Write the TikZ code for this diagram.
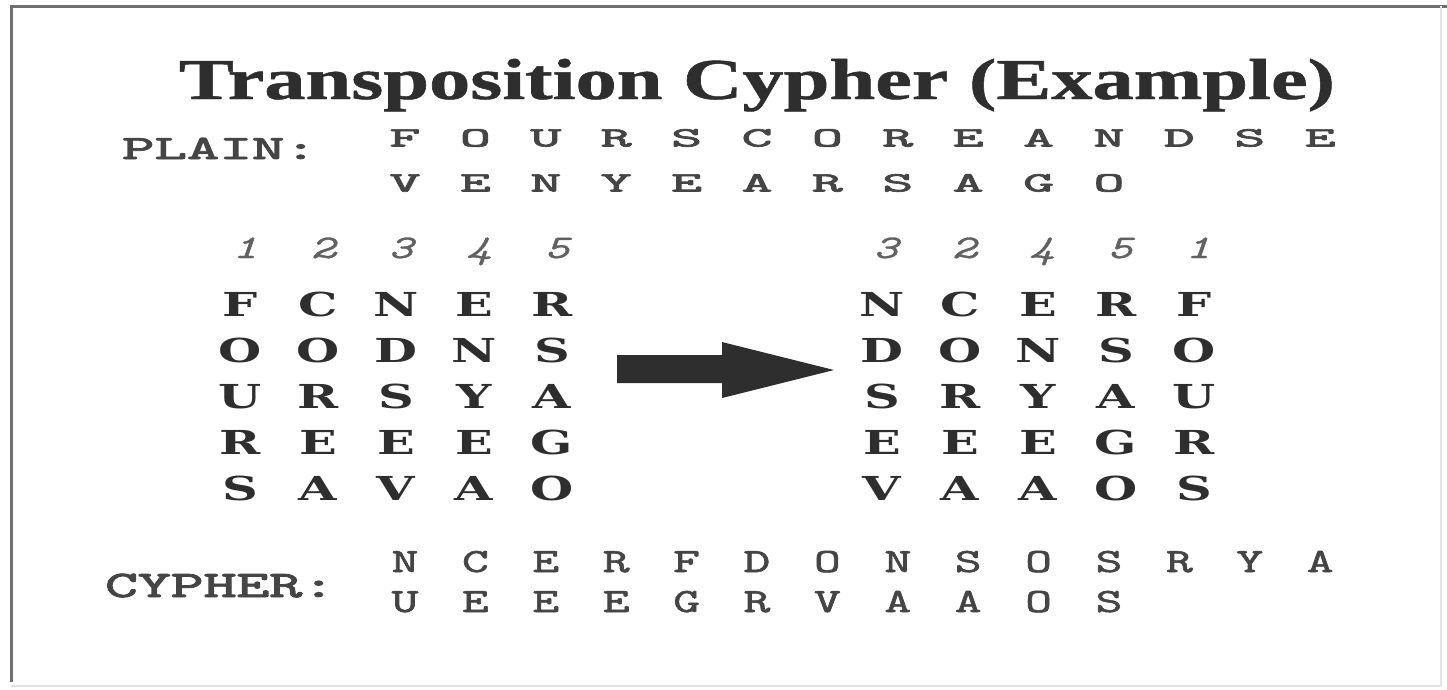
\documentclass[tikz,border=0pt]{standalone}
\usepackage{fontspec}
\usepackage{graphicx}
\setmainfont{Liberation Serif}
\newfontfamily\headfont{Liberation Serif Bold}[FakeBold=0.8]
% typewriter faces with a heavier stroke
\newfontfamily\typeheavy{lmmono10-regular.otf}[FakeBold=2.2]
\newfontfamily\typemedium{lmmono10-regular.otf}[FakeBold=1.4]
\newfontfamily\typeslant{lmmono10-italic.otf}[FakeBold=0.9]
\newfontfamily\slabfont{DejaVu Serif}

% horizontally widened text
\newcommand\widen[2]{\scalebox{#1}[1]{#2}}

\definecolor{ink}{HTML}{2E2E2E}
\definecolor{midink}{HTML}{454545}
\definecolor{softink}{HTML}{616161}
\definecolor{frameline}{HTML}{707070}
\definecolor{faintline}{HTML}{E2E2E2}

\begin{document}
\begin{tikzpicture}[x=1pt,y=-1pt,
  every node/.style={inner sep=0pt, outer sep=0pt, anchor=base},
  headline/.style={text=ink, font=\headfont\fontsize{58}{60}\selectfont},
  rowlabel/.style={text=midink, font=\typeheavy\fontsize{34}{36}\selectfont, anchor=base west},
  plainch/.style={text=midink, font=\typeheavy\fontsize{28}{30}\selectfont},
  cypherch/.style={text=midink, font=\typemedium\fontsize{34}{35}\selectfont},
  keydigit/.style={text=softink, font=\typeslant\fontsize{33}{34}\selectfont},
  gridch/.style={text=ink, font=\slabfont\bfseries\fontsize{33}{34}\selectfont},
  bigarrow/.style={fill=ink, draw=none}
]
\useasboundingbox (0,0) rectangle (1447,689);
\fill[white] (0,0) rectangle (1447,689);

% frame
\draw[frameline, line width=3pt] (10,6) -- (1447,6);
\draw[frameline, line width=3pt] (11,6) -- (11,682);
\draw[faintline, line width=1.2pt] (1441,6) -- (1441,686);
\draw[faintline, line width=1.2pt] (11,686) -- (1441,686);

% title
\node[headline] (title) at (757,99) {\widen{1.42}{Transposition Cypher (Example)}};

% plain text
\node[rowlabel] (plainlbl) at (122,159) {\widen{1.82}{PLAIN:}};
\foreach \l [count=\k from 0] in {F,O,U,R,S,C,O,R,E,A,N,D,S,E}
  \node[plainch] (pa\k) at ({405+70.4*\k},146.5) {\widen{2.1}{\l}};
\foreach \l [count=\k from 0] in {V,E,N,Y,E,A,R,S,A,G,O}
  \node[plainch] (pb\k) at ({405+70.4*\k},191.5) {\widen{2.1}{\l}};

% column keys
\foreach \d [count=\k from 0] in {1,2,3,4,5}
  \node[keydigit] (lk\k) at ({245+78*\k},258) {\widen{1.4}{\d}};
\foreach \d [count=\k from 0] in {3,2,4,5,1}
  \node[keydigit] (rk\k) at ({886+78*\k},258) {\widen{1.4}{\d}};

% left grid (written row by row)
\foreach \row [count=\r from 0] in {{F,C,N,E,R},{O,O,D,N,S},{U,R,S,Y,A},{R,E,E,E,G},{S,A,V,A,O}}
  \foreach \l [count=\k from 0] in \row
    \node[gridch] (lg\r\k) at ({240+78*\k},{316+46*\r}) {\widen{1.5}{\l}};

% right grid (columns reordered by key)
\foreach \row [count=\r from 0] in {{N,C,E,R,F},{D,O,N,S,O},{S,R,Y,A,U},{E,E,E,G,R},{V,A,A,O,S}}
  \foreach \l [count=\k from 0] in \row
    \node[gridch] (rg\r\k) at ({882+78*\k},{316+46*\r}) {\widen{1.5}{\l}};

% arrow between the grids
\coordinate (arrtail) at (617,369);
\coordinate (arrtip) at (834,370);
\fill[bigarrow] (arrtail) ++(0,-14) -- (722,355) -- (722,342) -- (arrtip)
  -- (722,398) -- (722,383) -- (617,383) -- cycle;

% cypher text
\node[rowlabel, font=\typeheavy\fontsize{37.5}{40}\selectfont] (cypherlbl) at (105,597) {\widen{1.67}{CYPHER:}};
\foreach \l [count=\k from 0] in {N,C,E,R,F,D,O,N,S,O,S,R,Y,A}
  \node[cypherch] (ca\k) at ({405+70.4*\k},572) {\widen{1.5}{\l}};
\foreach \l [count=\k from 0] in {U,E,E,E,G,R,V,A,A,O,S}
  \node[cypherch] (cb\k) at ({405+70.4*\k},612) {\widen{1.5}{\l}};
\end{tikzpicture}
\end{document}
